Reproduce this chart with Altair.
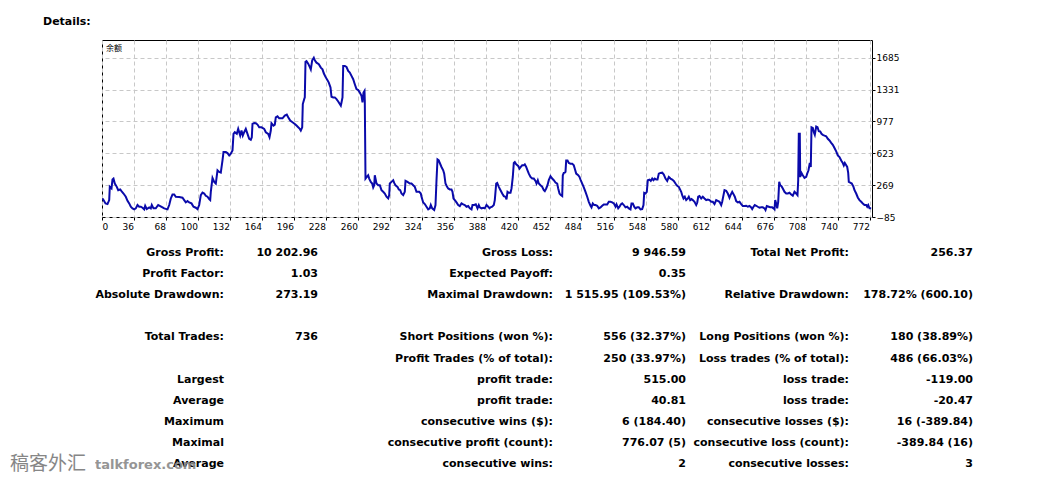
import altair as alt
import pandas as pd

# ---------------- data ----------------
trade_no = [
    5, 6, 8, 10, 11.7, 12.3, 14, 15, 16, 17.3, 19.3, 20.7, 22.7, 24, 26, 28.3, 30, 31.7, 33.3, 35,
    36.7, 38.3, 40, 41.7, 43.3, 45, 46.7, 47.7, 49.3, 51.7, 53.3, 54.3, 56, 58.3, 60.7, 62.7, 65, 66.7, 70, 71.7,
    73.3, 75, 76.7, 78.3, 81.7, 85, 86.7, 88.3, 90, 91.7, 94, 96, 98.3, 100, 101.7, 103.3, 105, 106.7, 108.3, 110,
    111.7, 112.7, 113.3, 115, 116.7, 118.3, 120, 121.7, 123.3, 125, 126, 128.3, 130, 131.7, 133.3, 135, 136, 137.3, 139.3, 140.7,
    142.7, 144, 145.3, 146.7, 148.3, 150, 151.7, 153.3, 154.3, 155, 156.7, 158.3, 160, 161.7, 164, 166.7, 168.3, 170.7, 172, 173.3,
    174, 176, 177.3, 178.3, 180, 181.7, 185, 187.3, 189.3, 190.7, 192.7, 195, 197.3,
    199, 200.7, 202.3, 203.3, 204.7, 205.3, 206.7, 207.3, 208, 209, 210.7, 212.3, 213.3, 214.7, 216.3, 217.3, 219, 221.3, 223.3, 225,
    226.3, 228, 230, 231.3, 233, 234, 235.7, 237.3, 239, 240.7, 242.3, 243.3, 244, 245, 245.7, 247.3, 249, 250.7, 252.3, 254,
    255.7, 257.3, 259, 260.7, 262.3, 264, 265, 266, 267, 267.3, 268, 269.3, 270.7, 271.7, 273.3, 274.7, 275.7, 276.7, 277.3, 279,
    280.7, 282.3, 284, 285.7, 287.3, 289, 290.7, 291.7, 292.3, 294, 295.7, 296.7, 298, 300, 301.3, 302.7, 304, 305.7, 307.3, 308,
    310, 312.3, 314, 315.7, 317.3, 319, 321.7, 323.3, 324, 325.7, 327.3, 329, 330.7, 332.3, 333.3, 334.7, 336.7, 338, 339, 340,
    341.3, 342.3, 344, 345.7, 346.7, 348, 349.3, 350.7, 352.3, 354, 355, 356, 357.3, 359, 360.7, 362.3, 364, 365.7, 367.3, 369,
    370.7, 372.3, 374, 375, 376.7, 378.3, 380, 381.3, 382.3, 384, 385.7, 387.3, 389, 390.7, 392,
    393, 394.7, 396.3, 397.3, 398.7, 399.7, 401.3, 403, 404.7, 406.3, 408, 409, 410, 411.3, 413, 414, 415.3, 416.3, 417.3, 418.7,
    420.7, 422, 423.3, 424.7, 426.3, 427.3, 428.7, 430, 431.3, 433, 434.7, 436.3, 438, 439, 440.3, 441.3, 443, 444.7, 446.3, 447.3,
    448.7, 450, 451.3, 453, 454.7, 456.3, 458, 459.7, 460.7, 462, 463.3, 464.7, 465.3, 466.3, 467.3, 468, 468.7, 470, 471.3, 473,
    474.7, 476.3, 477.3, 478.7, 480.7, 482, 483, 484.7, 486.3, 488, 489.7, 491.3, 493, 494, 495.3, 496.7, 498, 499.7, 501.3, 503,
    504.7, 506.3, 508, 509.7, 511.3, 513, 514.7, 516.3, 518, 519, 520.7, 522, 523.3, 524.7, 526.3, 528, 529.7, 531.3, 533, 534,
    535.3, 536.7, 538, 539.7, 541.3, 543, 544.7, 546, 546.7, 548, 549.3, 550.3, 552, 553.3, 554.7, 556, 557.3, 558.7, 560, 561.3,
    563, 564.7, 566.3, 568, 569.7, 571.3, 573, 574.7, 576.3, 578, 579.7, 581.3,
    583.7, 584.7, 586, 587.3, 588.7, 590.3, 591.3, 592.7, 594, 595.3, 597, 598.7, 599.7, 600.7, 602, 603.7, 605.3, 607, 608.7, 610.3,
    612, 613.7, 615.3, 617, 618.7, 620.3, 622, 623.7, 624.7, 626, 627, 628.7, 630.3, 632, 633, 634.7, 636, 637.3, 638.7, 640.3,
    642, 643.7, 645.3, 647, 648.7, 650.3, 652, 653.7, 654.7, 656, 657.3, 658.7, 660.3, 662, 663.7, 665.3, 667, 668, 669.3, 671.3,
    672.7, 674.7, 676, 677, 677.7, 678.7, 679.7, 680.7, 681.7, 682.7, 684, 685.3, 687, 688.7, 690.3, 692, 693.7, 695.3, 697, 698.7,
    700, 700.7, 701.3, 702.3, 702.7, 704, 705.3, 707, 708.7, 709.7, 711, 712.3, 713.3, 714, 715.3, 716.3, 717.3, 718.7, 720, 721.3,
    722.7, 724, 725.3, 727, 728.7, 730.3, 732, 733.7, 735.3, 737, 738.7, 740.3, 742, 743.7, 745.3, 746.3, 747.3, 748.7, 749.7, 750.7,
    751.3, 752.7, 754.3, 756, 757, 758.7, 760.3, 762, 763.7, 765.3, 767, 768.7, 769.7, 770.7, 772, 773.7,
]
balance = [
    121, 103, 66, 59, 103, 250, 232, 331, 342, 287, 250, 213, 221, 202, 176, 140, 95, 66, 29, 11,
    0, 11, 48, 29, 29, 18, 0, 40, 3, 22, 11, 48, 11, 11, 48, 37, 22, 11, 0, 48,
    121, 165, 165, 140, 136, 129, 103, 77, 92, 77, 66, 29, 18, 3, 48, 158, 187, 176, 151, 140,
    114, 103, 195, 349, 305, 287, 434, 416, 408, 544, 636, 636, 625, 600, 618, 655, 839, 857, 839, 894,
    820, 876, 820, 857, 894, 839, 784, 773, 802, 949, 960, 957, 942, 912, 912, 894, 857, 839, 802, 876,
    957, 931, 942, 1023, 1034, 1012, 1012, 1041, 1052, 1023, 986, 968, 949,
    931, 912, 894, 876, 912, 1170, 1225, 1244, 1641, 1648, 1619, 1582, 1556, 1656, 1685, 1656, 1630, 1612, 1575, 1556,
    1512, 1472, 1435, 1409, 1354, 1251, 1244, 1244, 1225, 1199, 1170, 1152, 1188, 1244, 1593, 1593, 1582, 1538, 1520, 1483,
    1446, 1391, 1336, 1325, 1299, 1262, 1188, 1299, 1317, 1207, 342, 360, 379, 342, 305, 287, 243, 268, 379, 287,
    268, 268, 213, 195, 176, 140, 121, 158, 287, 305, 324, 294, 268, 250, 221, 213, 176, 158, 195, 316,
    305, 287, 287, 268, 250, 195, 195, 176, 140, 77, 59, 29, 0, 11, 48, 11, -8, 48, 324, 555,
    544, 515, 471, 434, 397, 287, 257, 232, 221, 221, 195, 121, 103, 77, 48, 37, 66, 55, 48, 29,
    37, 11, 0, 48, 48, 55, 11, 48, 22, 11, 18, 11, 48, 29, 11,
    22, 29, 48, 103, 287, 294, 250, 213, 176, 147, 140, 110, 195, 184, 184, 232, 360, 515, 526, 500,
    482, 452, 471, 489, 489, 500, 471, 434, 397, 360, 342, 342, 316, 287, 324, 287, 268, 250, 213, 202,
    232, 268, 324, 368, 342, 324, 298, 287, 232, 176, 158, 147, 379, 405, 408, 416, 544, 544, 515, 508,
    508, 489, 452, 397, 379, 360, 331, 287, 243, 195, 140, 84, 40, 22, 66, 48, 48, 40, 11, 22,
    40, 55, 55, 55, 84, 84, 77, 66, 29, 55, 11, 29, 55, 66, 48, 22, 29, 11, 0, 66,
    66, 29, 11, 22, 22, 0, 3, 48, 184, 176, 195, 324, 331, 316, 342, 324, 342, 331, 331, 397,
    405, 408, 386, 342, 316, 360, 342, 331, 316, 287, 261, 250,
    195, 158, 121, 140, 103, 121, 140, 103, 114, 103, 84, 48, 73, 140, 147, 121, 140, 121, 103, 110,
    103, 84, 84, 59, 103, 95, 84, 48, 84, 158, 213, 206, 176, 129, 158, 195, 169, 140, 92, 77,
    84, 59, 37, 37, 40, 29, 37, 22, 3, 29, 48, 40, 29, 18, 22, 22, 11, -8, 37, 29,
    22, 22, 11, 0, 103, 66, 11, 84, 305, 268, 257, 232, 195, 176, 176, 184, 165, 151, 195, 176,
    158, 324, 839, 839, 360, 405, 379, 349, 360, 397, 434, 515, 471, 912, 905, 857, 828, 920, 912, 868,
    865, 839, 828, 820, 813, 784, 765, 739, 717, 681, 644, 600, 581, 544, 515, 489, 515, 489, 471, 405,
    305, 298, 287, 250, 213, 176, 132, 103, 84, 66, 48, 48, 29, 48, 11, 11,
]

x_tick_values = [36, 68, 100, 132, 164, 196, 228, 260, 292, 324, 356, 388, 420, 452, 484,
                 516, 548, 580, 612, 644, 676, 708, 740, 772]
x_first_label = "0"
y_tick_values = [-85, 269, 623, 977, 1331, 1685]
series_label = "余额"
section_title = "Details:"

col1_labels = ["Gross Profit:", "Profit Factor:", "Absolute Drawdown:", "", "Total Trades:", "",
               "Largest", "Average", "Maximum", "Maximal", "Average"]
col2_values = ["10 202.96", "1.03", "273.19", "", "736", "", "", "", "", "", ""]
col3_labels = ["Gross Loss:", "Expected Payoff:", "Maximal Drawdown:", "", "Short Positions (won %):",
               "Profit Trades (% of total):", "profit trade:", "profit trade:", "consecutive wins ($):",
               "consecutive profit (count):", "consecutive wins:"]
col4_values = ["9 946.59", "0.35", "1 515.95 (109.53%)", "", "556 (32.37%)", "250 (33.97%)",
               "515.00", "40.81", "6 (184.40)", "776.07 (5)", "2"]
col5_labels = ["Total Net Profit:", "", "Relative Drawdown:", "", "Long Positions (won %):",
               "Loss trades (% of total):", "loss trade:", "loss trade:", "consecutive losses ($):",
               "consecutive loss (count):", "consecutive losses:"]
col6_values = ["256.37", "", "178.72% (600.10)", "", "180 (38.89%)", "486 (66.03%)",
               "-119.00", "-20.47", "16 (-389.84)", "-389.84 (16)", "3"]

watermark_cn = "稿客外汇"
watermark_en = "talkforex.com"

# ---------------- layout ----------------
PLOT_W, PLOT_H = 770, 177
X_MIN, X_MAX = 4.5, 774.5
Y_MIN, Y_MAX = -85, 1882
FONT = "DejaVu Sans"

col_right = [122, 216, 451, 584, 747, 871]
row_top, row_step = 213, 21.1

line_df = pd.DataFrame({"trade": trade_no, "balance": balance})

rows = []
for ci, col in enumerate([col1_labels, col2_values, col3_labels, col4_values, col5_labels, col6_values]):
    for ri, txt in enumerate(col):
        if txt:
            rows.append({"txt": txt, "px": col_right[ci], "py": row_top + row_step * ri})
table_df = pd.DataFrame(rows)

line = alt.Chart(line_df).mark_line(color="#0A0AAA", strokeWidth=2, clip=True).encode(
    x=alt.X(
        "trade:Q",
        scale=alt.Scale(domain=[X_MIN, X_MAX], nice=False, zero=False),
        axis=alt.Axis(
            values=[X_MIN] + x_tick_values,
            labelExpr=f"datum.value < 20 ? '{x_first_label}' : format(datum.value, 'd')",
            labelAlign={"condition": {"test": "datum.value < 20", "value": "left"}, "value": "right"},
            labelFlush=False, labelOverlap=False,
            labelFont=FONT, labelFontSize=9, labelColor="#000000", labelPadding=2,
            tickSize=3, tickColor="#000000", domain=False,
            grid=True, gridColor="#C8C8C8", gridDash=[4, 3], gridWidth=1,
            title=None,
        ),
    ),
    y=alt.Y(
        "balance:Q",
        scale=alt.Scale(domain=[Y_MIN, Y_MAX], nice=False, zero=False),
        axis=alt.Axis(
            orient="right", values=y_tick_values, format="d",
            labelFont=FONT, labelFontSize=9, labelColor="#000000", labelPadding=1, labelAlign="left",
            labelOverlap=False, labelFlush=False,
            tickSize=3, tickColor="#000000", domain=False,
            grid=True, gridColor="#C8C8C8", gridDash=[4, 3], gridWidth=1,
            title=None,
        ),
    ),
)

table = alt.Chart(table_df).mark_text(
    align="right", baseline="middle", font=FONT, fontSize=11, fontWeight="bold", color="#000000"
).encode(
    x=alt.X("px:Q", scale=None, axis=None),
    y=alt.Y("py:Q", scale=None, axis=None),
    text="txt:N",
)

title_txt = alt.Chart(pd.DataFrame({"t": [section_title]})).mark_text(
    align="left", baseline="middle", font=FONT, fontSize=11, fontWeight="bold", color="#000000"
).encode(x=alt.value(-59), y=alt.value(-18), text="t:N")

series_txt = alt.Chart(pd.DataFrame({"t": [series_label]})).mark_text(
    align="left", baseline="middle", font="Noto Sans CJK SC", fontSize=8, color="#000000"
).encode(x=alt.value(4), y=alt.value(9), text="t:N")

wm_cn = alt.Chart(pd.DataFrame({"t": [watermark_cn]})).mark_text(
    align="left", baseline="middle", font="Noto Sans CJK SC", fontSize=19, color="#7A7A7A", opacity=0.9
).encode(x=alt.value(-92), y=alt.value(424), text="t:N")

wm_en = alt.Chart(pd.DataFrame({"t": [watermark_en]})).mark_text(
    align="left", baseline="middle", font=FONT, fontSize=13, fontWeight="bold", color="#8A8A8A", opacity=0.9
).encode(x=alt.value(-7), y=alt.value(425), text="t:N")

chart = alt.layer(line, table, title_txt, series_txt, wm_cn, wm_en).resolve_scale(
    x="independent", y="independent"
).properties(
    width=PLOT_W, height=PLOT_H,
    autosize=alt.AutoSizeParams(type="none"),
    padding={"left": 94, "top": 32, "right": 176, "bottom": 256},
    background="#FFFFFF",
).configure_view(stroke="#000000", strokeWidth=1)

chart.save("out.html", embed_options={"renderer": "svg", "actions": False})
